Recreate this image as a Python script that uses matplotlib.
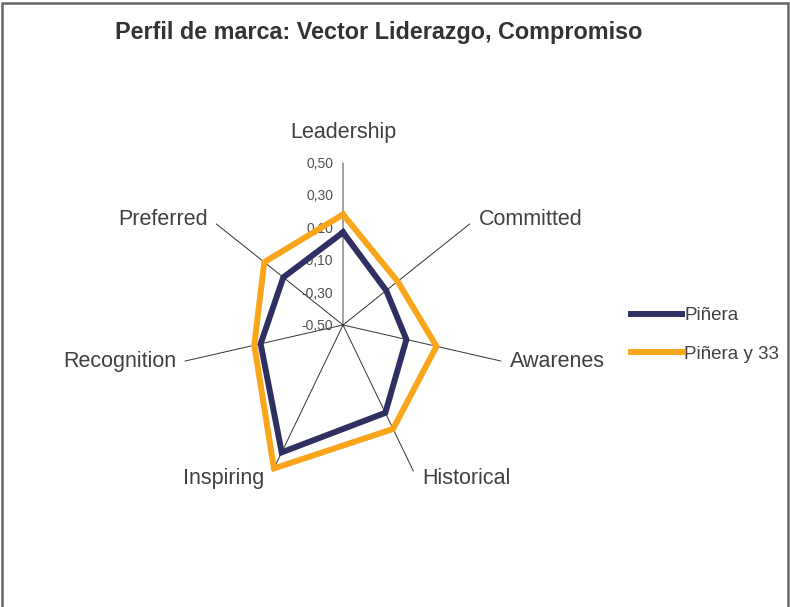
import numpy as np
import matplotlib.pyplot as plt
from matplotlib.patches import Rectangle

plt.rcParams['font.family'] = ['Liberation Sans', 'DejaVu Sans']

# datos del radar
categorias = ['Leadership', 'Committed', 'Awarenes', 'Historical',
              'Inspiring', 'Recognition', 'Preferred']
pinera = [0.07, -0.16, -0.10, 0.10, 0.37, 0.02, -0.03]
pinera_33 = [0.18, -0.07, 0.09, 0.21, 0.48, 0.06, 0.12]
series_nombres = ['Piñera', 'Piñera y 33']
ticks = [-0.50, -0.30, -0.10, 0.10, 0.30, 0.50]
titulo = 'Perfil de marca: Vector Liderazgo, Compromiso'

navy = '#2F2F62'
naranja = '#FAA61A'
gris_texto = '#404040'

fig = plt.figure(figsize=(7.9, 6.07), dpi=100)

# borde del area del grafico
fig.patches.append(Rectangle((0.003, -0.05), 0.994, 1.045, transform=fig.transFigure,
                             fill=False, edgecolor='#666666', linewidth=1.8))

ax = fig.add_axes([0.2285, 0.1969, 0.4114, 0.5354], projection='polar')
ax.set_theta_zero_location('N')
ax.set_theta_direction(-1)
ax.set_ylim(-0.5, 0.5)
ax.grid(False)
ax.set_xticks([])
ax.set_yticks([])
ax.spines['polar'].set_visible(False)
ax.patch.set_alpha(0)

n = len(categorias)
angulos = np.linspace(0, 2 * np.pi, n, endpoint=False)

# ejes radiales
for i, a in enumerate(angulos):
    if i == 0:
        ax.plot([a, a], [-0.5, 0.5], color='#888888', lw=1.1, zorder=1)
    else:
        ax.plot([a, a], [-0.5, 0.5], color='#333333', lw=0.7, zorder=1)

# etiquetas de las categorias
for a, cat in zip(angulos, categorias):
    if np.isclose(a, 0):
        ax.annotate(cat, xy=(a, 0.5), xytext=(0, 14), textcoords='offset points',
                    ha='center', va='bottom', fontsize=15.5, color=gris_texto)
    else:
        lado = 1 if np.sin(a) > 0 else -1
        dy = 0
        if np.cos(a) > 0.3:
            dy = 3
        elif np.cos(a) < -0.5:
            dy = -5
        ax.annotate(cat, xy=(a, 0.5), xytext=(6 * lado, dy), textcoords='offset points',
                    ha='left' if lado > 0 else 'right', va='center',
                    fontsize=15.5, color=gris_texto)

# etiquetas del eje de valores
for t in ticks:
    ax.annotate(f'{t:.2f}'.replace('.', ','), xy=(0, t), xytext=(-7, -1),
                textcoords='offset points', ha='right', va='center',
                fontsize=10, color='#505050', zorder=2)

# series
ang_c = np.append(angulos, angulos[0])
l1, = ax.plot(ang_c, pinera + pinera[:1], color=navy, lw=4.3, solid_joinstyle='miter', zorder=3)
l2, = ax.plot(ang_c, pinera_33 + pinera_33[:1], color=naranja, lw=4.3, solid_joinstyle='miter', zorder=3)

fig.legend([l1, l2], series_nombres, loc='center left', bbox_to_anchor=(0.799, 0.448),
           frameon=False, fontsize=13.5, handlelength=2.7, handletextpad=0.12,
           labelspacing=1.15, labelcolor=gris_texto, borderaxespad=0, borderpad=0)

fig.text(0.479, 0.947, titulo, ha='center', va='center', fontsize=16.8,
         fontweight='bold', color='#333333')

fig.savefig('out.png', dpi=100)
